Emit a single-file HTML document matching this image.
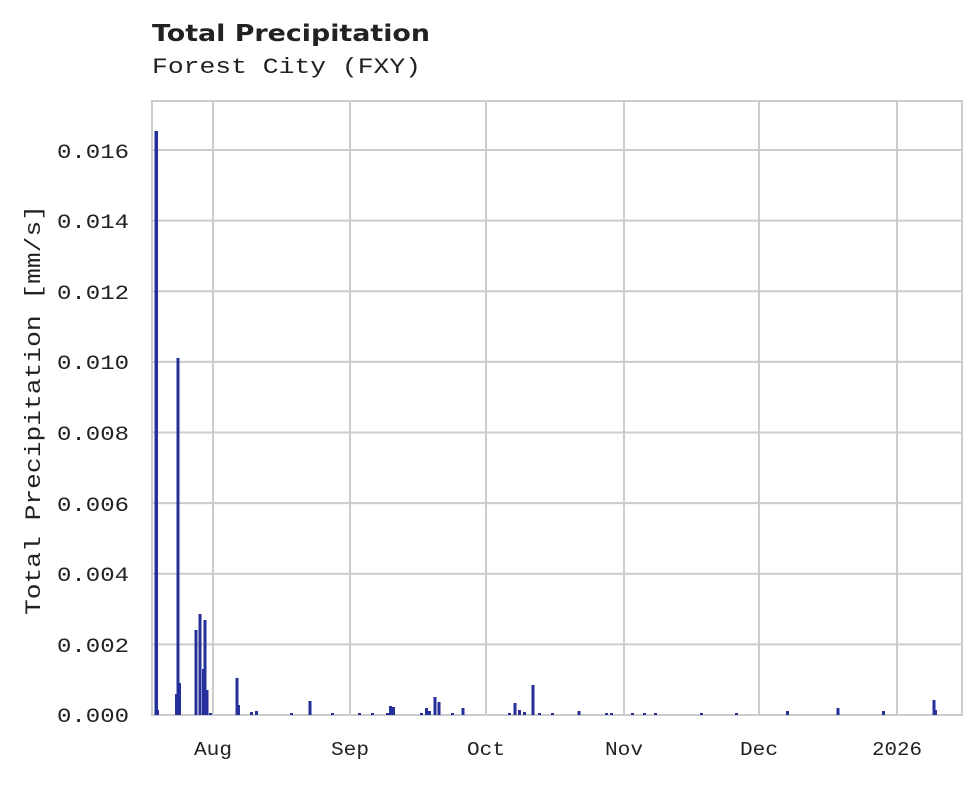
<!DOCTYPE html>
<html><head><meta charset="utf-8"><style>
body{margin:0;background:#fff;width:980px;height:780px;overflow:hidden}
svg text{fill:#222}
</style></head><body>
<svg width="980" height="780" xmlns="http://www.w3.org/2000/svg">
<text x="152" y="41" font-family="DejaVu Sans, Liberation Sans, sans-serif" font-weight="bold" font-size="23" textLength="278" lengthAdjust="spacingAndGlyphs">Total Precipitation</text>
<text x="152" y="73" font-family="Liberation Mono, DejaVu Sans Mono, monospace" font-size="22" textLength="269" lengthAdjust="spacingAndGlyphs">Forest City (FXY)</text>
<g stroke="#cccccc" stroke-width="2">
<line x1="213" y1="101" x2="213" y2="715"/><line x1="350" y1="101" x2="350" y2="715"/>
<line x1="486" y1="101" x2="486" y2="715"/><line x1="624" y1="101" x2="624" y2="715"/>
<line x1="759" y1="101" x2="759" y2="715"/><line x1="897" y1="101" x2="897" y2="715"/>
<line x1="152" y1="150" x2="962" y2="150"/><line x1="152" y1="220.6" x2="962" y2="220.6"/>
<line x1="152" y1="291.3" x2="962" y2="291.3"/><line x1="152" y1="361.9" x2="962" y2="361.9"/>
<line x1="152" y1="432.5" x2="962" y2="432.5"/><line x1="152" y1="503.1" x2="962" y2="503.1"/>
<line x1="152" y1="573.8" x2="962" y2="573.8"/><line x1="152" y1="644.4" x2="962" y2="644.4"/>
<rect x="152" y="101" width="810" height="614" fill="none"/>
</g>
<g fill="#25309a">
<rect x="154.5" y="131" width="3.5" height="584"/><rect x="157" y="710" width="2" height="5"/>
<rect x="175" y="694" width="2" height="21"/><rect x="176.5" y="358" width="3" height="357"/><rect x="179" y="683" width="2" height="32"/>
<rect x="194.5" y="630" width="3" height="85"/><rect x="198.5" y="614" width="3" height="101"/><rect x="202" y="669" width="2" height="46"/>
<rect x="203.5" y="620" width="3" height="95"/><rect x="206.5" y="690" width="2" height="25"/><rect x="209" y="713" width="3" height="2"/>
<rect x="235.5" y="678" width="3" height="37"/><rect x="238" y="705" width="2" height="10"/>
<rect x="250" y="712" width="3" height="3"/><rect x="255" y="711" width="3" height="4"/>
<rect x="290" y="713" width="3" height="2"/><rect x="308.5" y="701" width="3" height="14"/>
<rect x="331" y="713" width="3" height="2"/><rect x="358" y="713" width="3" height="2"/><rect x="371" y="713" width="3" height="2"/>
<rect x="386" y="713" width="3" height="2"/><rect x="389" y="706" width="3" height="9"/><rect x="392" y="707" width="3" height="8"/>
<rect x="420" y="713" width="3" height="2"/><rect x="425" y="708" width="3" height="7"/><rect x="428" y="711" width="3" height="4"/>
<rect x="433.5" y="697" width="3" height="18"/><rect x="437.5" y="702" width="3" height="13"/>
<rect x="451" y="713" width="3" height="2"/><rect x="461.5" y="708" width="3" height="7"/>
<rect x="508" y="713" width="3" height="2"/><rect x="513.5" y="703" width="3" height="12"/><rect x="518" y="710" width="3" height="5"/>
<rect x="523" y="712" width="3" height="3"/><rect x="531.5" y="685" width="3" height="30"/><rect x="538" y="713" width="3" height="2"/>
<rect x="551" y="713" width="3" height="2"/><rect x="577.5" y="711" width="3" height="4"/>
<rect x="605" y="713" width="3" height="2"/><rect x="610" y="713" width="3" height="2"/>
<rect x="631" y="713" width="3" height="2"/><rect x="643" y="713" width="3" height="2"/><rect x="654" y="713" width="3" height="2"/>
<rect x="700" y="713" width="3" height="2"/><rect x="735" y="713" width="3" height="2"/>
<rect x="786" y="711" width="3" height="4"/><rect x="836.5" y="708" width="3" height="7"/><rect x="882" y="711" width="3" height="4"/>
<rect x="932.5" y="700" width="3" height="15"/><rect x="935" y="710" width="2" height="5"/>
</g>
<g font-family="Liberation Mono, DejaVu Sans Mono, monospace" font-size="20">
<text x="57" y="158" textLength="72" lengthAdjust="spacingAndGlyphs">0.016</text><text x="57" y="228" textLength="72" lengthAdjust="spacingAndGlyphs">0.014</text><text x="57" y="299" textLength="72" lengthAdjust="spacingAndGlyphs">0.012</text>
<text x="57" y="369" textLength="72" lengthAdjust="spacingAndGlyphs">0.010</text><text x="57" y="440" textLength="72" lengthAdjust="spacingAndGlyphs">0.008</text><text x="57" y="511" textLength="72" lengthAdjust="spacingAndGlyphs">0.006</text>
<text x="57" y="581" textLength="72" lengthAdjust="spacingAndGlyphs">0.004</text><text x="57" y="652" textLength="72" lengthAdjust="spacingAndGlyphs">0.002</text><text x="57" y="722" textLength="72" lengthAdjust="spacingAndGlyphs">0.000</text>
</g>
<g font-family="Liberation Mono, DejaVu Sans Mono, monospace" font-size="19">
<text x="194" y="755" textLength="38" lengthAdjust="spacingAndGlyphs">Aug</text><text x="331" y="755" textLength="38" lengthAdjust="spacingAndGlyphs">Sep</text><text x="467" y="755" textLength="38" lengthAdjust="spacingAndGlyphs">Oct</text>
<text x="605" y="755" textLength="38" lengthAdjust="spacingAndGlyphs">Nov</text><text x="740" y="755" textLength="38" lengthAdjust="spacingAndGlyphs">Dec</text><text x="872" y="755" textLength="50" lengthAdjust="spacingAndGlyphs">2026</text>
</g>
<text transform="translate(40,410) rotate(-90)" x="-205" y="0" font-family="Liberation Mono, DejaVu Sans Mono, monospace" font-size="22" textLength="410" lengthAdjust="spacingAndGlyphs">Total Precipitation [mm/s]</text>
</svg>
</body></html>
